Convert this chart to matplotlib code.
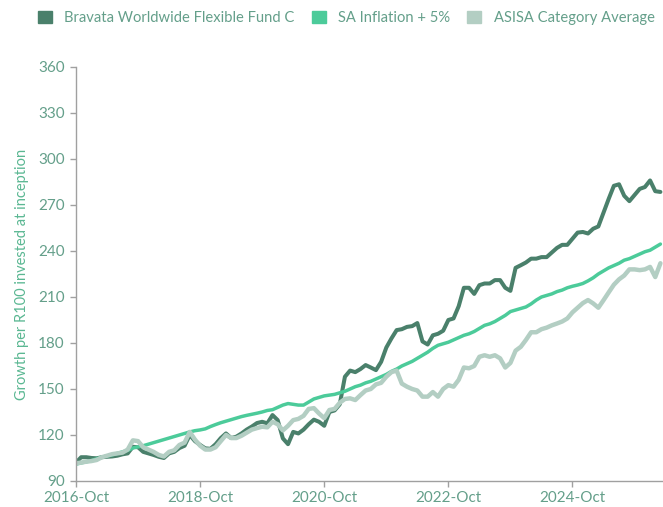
import matplotlib
matplotlib.use("Agg")
import matplotlib.pyplot as plt
from matplotlib.patches import Patch

# ---- data (monthly, starting 2016-Oct) ----
fund = [102, 105.5, 105.5, 105, 104.8, 105.5, 105.8, 106, 106.5, 107.4,
        108, 112.3, 112, 109, 108, 107, 105.8, 105, 108, 109,
        111.5, 113, 120, 116, 113.5, 111.3, 111, 114, 118, 121,
        118, 118.9, 121, 123.5, 125.5, 127.8, 128.6, 127.6, 133, 129.7,
        117.8, 114, 122, 121, 123.5, 127, 130, 128.6, 126, 135,
        136, 140, 158, 162, 161, 163, 165.6, 164, 162.3, 167.7,
        177, 183, 188.4, 189, 190.5, 191, 193, 181, 179, 185,
        186, 188, 195, 196, 204, 216, 216, 212, 217.7, 218.8,
        218.8, 221, 221, 216, 214, 229, 230.7, 232.5, 235, 235,
        236, 236, 239, 242, 244, 244, 248, 252, 252.4, 251.4,
        254.5, 256, 265, 274, 282.5, 283.5, 276, 272.5, 276.5, 280.5,
        281.7, 286, 279, 278.5]

inflation = [101, 101.8, 102.5, 103.3, 104.5, 105.5, 106.3, 107, 108, 109,
             110, 111.5, 112.3, 113, 114, 115, 116, 117, 118, 119,
             120, 121, 122, 122.8, 123.3, 124, 125.5, 126.8, 128, 129,
             130, 131, 132, 132.8, 133.5, 134.2, 135, 136, 136.5, 138,
             139.5, 140.5, 140, 139.5, 139.5, 141.5, 143.5, 144.5, 145.5, 146,
             146.5, 147.5, 148.5, 150, 151.5, 152.5, 154, 155, 156.5, 158,
             159.5, 161.5, 163, 165, 166.5, 168, 170, 172, 174, 176.5,
             178.5, 179.5, 180.5, 182, 183.5, 185, 186, 187.5, 189.5, 191.5,
             192.5, 194, 196, 198, 200.5, 201.5, 202.5, 203.5, 205.5, 208,
             210, 211, 212, 213.5, 214.5, 216, 217, 217.8, 218.8, 220.5,
             222.5, 225, 227, 229, 230.5, 232, 234, 235, 236.5, 238,
             239.5, 240.5, 242.5, 244.5]

asisa = [101.5, 102, 102.6, 103, 103.7, 105.5, 106.5, 107.5, 108, 108.5,
         110.5, 116.5, 116, 112, 110.5, 109, 107, 106, 109, 110,
         113.5, 115, 122, 117, 113, 110.5, 110.5, 112, 116, 120,
         118, 118, 119.5, 121.5, 123.5, 124.5, 125.4, 125, 128.6, 127,
         123, 126, 129.7, 130.5, 132.5, 137, 137.5, 134, 131, 136.3,
         137, 141, 143.5, 143.9, 142.8, 146, 149, 150, 153, 154,
         158, 161, 162, 153.5, 151.5, 150, 149, 145, 145, 148,
         145, 150, 152.5, 151.5, 156, 164, 163.5, 165, 171, 172,
         171, 172, 170, 164, 167, 175, 177.5, 182, 187, 187,
         189, 190, 191.5, 192.7, 194, 196, 200, 203, 206, 208,
         205.8, 203, 207.9, 213, 218, 221.5, 224, 228, 228, 227.5,
         228, 229.6, 223, 232]

series_names = ["Bravata Worldwide Flexible Fund C", "SA Inflation + 5%",
                "ASISA Category Average"]
tick_labels = ["2016-Oct", "2018-Oct", "2020-Oct", "2022-Oct", "2024-Oct"]
y_ticks = [90, 120, 150, 180, 210, 240, 270, 300, 330, 360]

# ---- style ----
c_fund = "#4a806b"
c_infl = "#4ccb9a"
c_asisa = "#b3cec3"
c_tick = "#649f8a"
c_label = "#5ab792"
c_axis = "#a0a0a0"

plt.rcParams["font.family"] = ["Lato", "DejaVu Sans"]

fig = plt.figure(figsize=(6.63, 5.07), dpi=100)
ax = fig.add_axes([0.1146, 0.0513, 0.8854, 0.8166])

x = list(range(len(fund)))
ax.plot(x, fund, color=c_fund, lw=2.9, solid_capstyle="round", solid_joinstyle="round")
ax.plot(x, inflation, color=c_infl, lw=2.5, solid_capstyle="round", solid_joinstyle="round")
ax.plot(x, asisa, color=c_asisa, lw=3.2, solid_capstyle="round", solid_joinstyle="round")

ax.set_xlim(0, 113.5)
ax.set_ylim(90, 360)
ax.set_yticks(y_ticks)
ax.set_xticks([0, 24, 48, 72, 96])
ax.set_xticklabels(tick_labels)

for s in ["top", "right"]:
    ax.spines[s].set_visible(False)
for s in ["left", "bottom"]:
    ax.spines[s].set_color(c_axis)
    ax.spines[s].set_linewidth(1.0)
ax.tick_params(axis="both", colors=c_axis, length=4, width=1.0,
               labelcolor=c_tick, labelsize=11)
ax.tick_params(axis="x", pad=3)
ax.tick_params(axis="y", pad=4)

ax.set_ylabel("Growth per R100 invested at inception", color=c_label,
              fontsize=10.5, labelpad=7)

handles = [Patch(facecolor=c, edgecolor=c) for c in (c_fund, c_infl, c_asisa)]
leg = fig.legend(handles, series_names, loc="upper left",
                 bbox_to_anchor=(0.037, 1.005), ncol=3, frameon=False,
                 fontsize=10.6, handlelength=0.95, handleheight=0.95,
                 handletextpad=0.85, columnspacing=1.15, labelcolor=c_tick)

fig.savefig("out.png", dpi=100)
